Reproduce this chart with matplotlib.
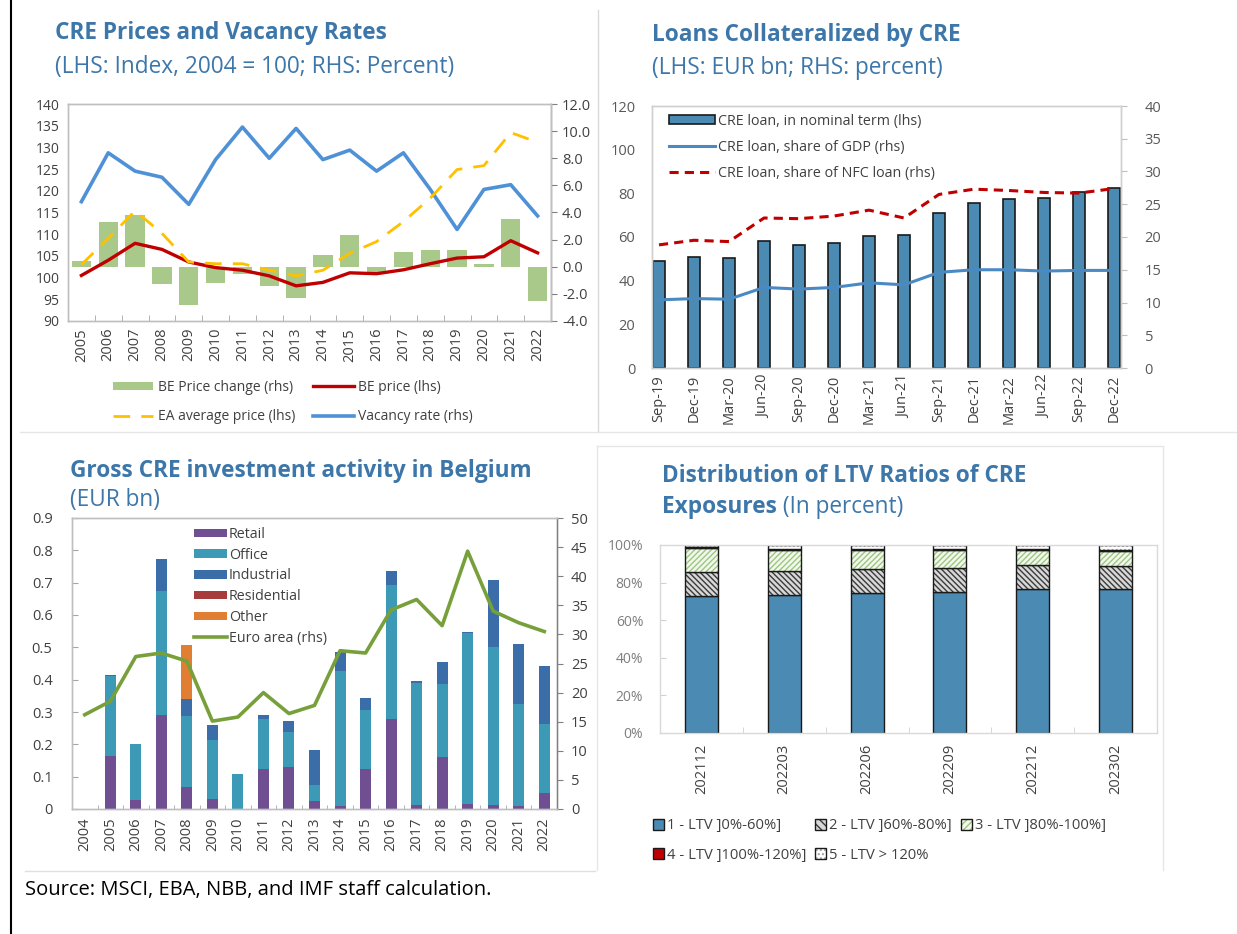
import numpy as np
import matplotlib
matplotlib.use("Agg")
import matplotlib.pyplot as plt
from matplotlib.patches import Patch
from matplotlib.lines import Line2D
from matplotlib.legend_handler import HandlerTuple
from matplotlib.ticker import FuncFormatter

plt.rcParams['font.family'] = ['Open Sans', 'DejaVu Sans']

W, H = 1237, 934
TITLE_C = '#3d77aa'
TICK_C = '#404040'
SPINE_C = '#bfbfbf'

# --- CRE prices and vacancy rates ---
years1 = [str(y) for y in range(2005, 2023)]
be_change = [0.4, 3.3, 3.8, -1.3, -2.8, -1.2, -0.5, -1.4, -2.3, 0.85, 2.35, -0.45,
             1.1, 1.2, 1.2, 0.2, 3.55, -2.5]
be_price = [100.5, 104.0, 107.9, 106.5, 103.6, 102.3, 101.7, 100.4, 98.1, 98.9, 101.1,
            100.9, 101.8, 103.2, 104.5, 104.8, 108.5, 105.7]
ea_price = [103.0, 109.0, 115.4, 110.2, 103.6, 103.2, 103.2, 101.7, 100.4, 101.7, 105.6,
            108.3, 112.9, 118.3, 124.9, 125.8, 133.4, 131.2]
vacancy = [4.8, 8.4, 7.05, 6.6, 4.6, 7.9, 10.3, 8.0, 10.2, 7.9, 8.6, 7.05, 8.4, 5.7,
           2.75, 5.7, 6.05, 3.75]

# --- Loans collateralized by CRE ---
quarters = ['Sep-19', 'Dec-19', 'Mar-20', 'Jun-20', 'Sep-20', 'Dec-20', 'Mar-21',
            'Jun-21', 'Sep-21', 'Dec-21', 'Mar-22', 'Jun-22', 'Sep-22', 'Dec-22']
cre_loan = [49.2, 50.8, 50.3, 58.0, 56.2, 57.4, 60.3, 60.8, 71.2, 75.8, 77.4, 78.0, 80.8, 82.6]
share_gdp = [10.4, 10.6, 10.5, 12.3, 12.05, 12.3, 13.0, 12.7, 14.6, 15.0, 15.0, 14.8, 14.9, 14.9]
share_nfc = [18.8, 19.5, 19.3, 22.9, 22.8, 23.2, 24.1, 22.9, 26.5, 27.3, 27.1, 26.8, 26.7, 27.4]

# --- Gross CRE investment activity ---
years3 = [str(y) for y in range(2004, 2023)]
retail = [0, 0.163, 0.029, 0.292, 0.068, 0.032, 0, 0.124, 0.129, 0.024, 0.008, 0.125,
          0.279, 0.013, 0.161, 0.016, 0.013, 0.008, 0.049]
office = [0, 0.247, 0.172, 0.381, 0.221, 0.182, 0.109, 0.155, 0.109, 0.051, 0.420, 0.180,
          0.415, 0.377, 0.227, 0.528, 0.488, 0.318, 0.214]
industrial = [0, 0.003, 0, 0.100, 0.051, 0.046, 0, 0.013, 0.033, 0.106, 0.057, 0.038,
              0.041, 0.005, 0.066, 0.004, 0.208, 0.185, 0.180]
residential = [0] * 19
other = [0, 0, 0, 0, 0.166, 0, 0, 0, 0, 0, 0, 0, 0, 0, 0, 0, 0, 0, 0]
euro_area = [16.2, 18.5, 26.2, 26.8, 25.4, 15.1, 15.8, 20.0, 16.4, 17.8, 27.2, 26.8,
             34.2, 36.0, 31.5, 44.3, 34.0, 32.0, 30.5]

# --- LTV distribution ---
periods = ['202112', '202203', '202206', '202209', '202212', '202302']
ltv1 = [72.9, 73.5, 74.3, 74.9, 76.6, 76.5]
ltv2 = [12.6, 12.7, 12.8, 13.1, 13.0, 12.3]
ltv3 = [12.7, 11.1, 10.2, 9.3, 7.7, 8.2]
ltv4 = [0.9, 0.4, 0.4, 0.4, 0.4, 0.5]
ltv5 = [0.9, 2.3, 2.3, 2.3, 2.3, 2.5]
ltv_labels = ['1 - LTV ]0%-60%]', '2 - LTV ]60%-80%]', '3 - LTV ]80%-100%]',
              '4 - LTV ]100%-120%]', '5 - LTV > 120%']

fig = plt.figure(figsize=(W / 100, H / 100), dpi=100)


def add_ax(l, t, r, b):
    return fig.add_axes([l / W, 1 - b / H, (r - l) / W, (b - t) / H])


def fx(x):
    return x / W


def fy(y):
    return 1 - y / H


def box_spines(ax, color=SPINE_C):
    for s in ax.spines.values():
        s.set_color(color)
        s.set_linewidth(1.0)


TFS = 16.3   # title size
TKS = 10.5   # tick label size

# frame lines
fig.add_artist(Line2D([fx(11), fx(11)], [0, 1], color='black', lw=1.5))
fig.add_artist(Line2D([fx(598), fx(598)], [fy(10), fy(432)], color='#d9d9d9', lw=1))
fig.add_artist(Line2D([fx(20), fx(1237)], [fy(432), fy(432)], color='#e6e6e6', lw=1))
fig.add_artist(Line2D([fx(597), fx(597)], [fy(446), fy(870)], color='#e6e6e6', lw=1))
fig.add_artist(Line2D([fx(597), fx(1163)], [fy(446), fy(446)], color='#e6e6e6', lw=1))
fig.add_artist(Line2D([fx(1163), fx(1163)], [fy(446), fy(870)], color='#e6e6e6', lw=1))
fig.add_artist(Line2D([fx(25), fx(595)], [fy(871), fy(871)], color='#e0e0e0', lw=1))

# ---------------- panel 1 ----------------
ax1 = add_ax(68, 104, 551, 321)
ax1r = ax1.twinx()
x1 = np.arange(len(years1))
ax1r.bar(x1, be_change, width=0.72, color='#a9c98b', zorder=1)
ax1r.plot(x1, vacancy, color='#4f91d6', lw=2.6, zorder=2)
ax1.plot(x1, be_price, color='#c00000', lw=2.4, zorder=3)
ax1.plot(x1, ea_price, color='#ffc000', lw=2.0, dashes=(6, 4), zorder=3)
ax1.set_zorder(ax1r.get_zorder() + 1)
ax1.patch.set_visible(False)
ax1.set_xlim(-0.5, len(years1) - 0.5)
ax1.set_ylim(90, 140)
ax1r.set_ylim(-4, 12)
ax1.set_yticks(np.arange(90, 141, 5))
ax1r.set_yticks(np.arange(-4, 12.1, 2))
ax1r.yaxis.set_major_formatter(FuncFormatter(lambda v, p: f'{v:.1f}'))
ax1.set_xticks(x1)
ax1.set_xticklabels(years1, rotation=90)
ax1.set_xticks(np.arange(-0.5, len(years1)), minor=True)
ax1.tick_params(axis='x', which='major', length=0, labelsize=TKS, colors=TICK_C, pad=5)
ax1.tick_params(axis='x', which='minor', length=4, direction='in', color='#a6a6a6')
ax1.tick_params(axis='y', length=0, labelsize=10, colors=TICK_C, pad=6)
ax1r.tick_params(axis='y', length=4, direction='out', color='#808080', labelsize=TKS,
                 colors=TICK_C, pad=4)
box_spines(ax1, '#bfbfbf')
box_spines(ax1r, '#bfbfbf')
ax1r.spines['right'].set_color('#808080')

h_change = Patch(facecolor='#a9c98b')
h_be = Line2D([], [], color='#c00000', lw=2.4)
h_ea = Line2D([], [], color='#ffc000', lw=2.0, dashes=(6, 4))
h_vac = Line2D([], [], color='#4f91d6', lw=2.6)
fig.legend([h_change, h_ea, h_be, h_vac],
           ['BE Price change (rhs)', 'EA average price (lhs)', 'BE price (lhs)',
            'Vacancy rate (rhs)'],
           loc='center', bbox_to_anchor=(fx(293), fy(402)), ncol=2, frameon=False,
           fontsize=10, handlelength=2.9, handleheight=0.5, handletextpad=0.35,
           columnspacing=1.3, labelspacing=1.05, labelcolor=TICK_C)

fig.text(fx(55), fy(33), 'CRE Prices and Vacancy Rates', color=TITLE_C, fontsize=TFS,
         fontweight='bold', va='center')
fig.text(fx(55), fy(67), '(LHS: Index, 2004 = 100; RHS: Percent)', color=TITLE_C,
         fontsize=TFS, va='center')

# ---------------- panel 2 ----------------
ax2 = add_ax(652, 106, 1121, 368)
ax2r = ax2.twinx()
x2 = np.arange(len(quarters))
ax2.bar(x2, cre_loan, width=0.36, color='#4b8bb3', edgecolor='#1a1a1a', lw=1.2)
ax2r.plot(x2, share_gdp, color='#4a8ac4', lw=2.2)
ax2r.plot(x2, share_nfc, color='#c00000', lw=2.2, dashes=(3, 2))
ax2.set_xlim(-0.2, len(quarters) - 0.8)
ax2.set_ylim(0, 120)
ax2r.set_ylim(0, 40)
ax2.set_yticks(np.arange(0, 121, 20))
ax2r.set_yticks(np.arange(0, 41, 5))
ax2.set_xticks(x2)
ax2.set_xticklabels(quarters, rotation=90)
ax2.tick_params(axis='x', length=0, labelsize=TKS, colors='#404040', pad=5)
ax2.tick_params(axis='y', length=0, labelsize=TKS, colors='#595959', pad=12)
ax2r.tick_params(axis='y', length=4, direction='out', color='#bfbfbf', labelsize=TKS,
                 colors='#595959', pad=13)
box_spines(ax2, '#d0d0d0')
box_spines(ax2r, '#d0d0d0')

h_bar = Patch(facecolor='#4b8bb3', edgecolor='#1a1a1a', lw=1.2)
h_gdp = Line2D([], [], color='#4a8ac4', lw=2.2)
h_nfc = Line2D([], [], color='#c00000', lw=2.2, dashes=(3, 2))
ax2r.legend([h_bar, h_gdp, h_nfc],
            ['CRE loan, in nominal term (lhs)', 'CRE loan, share of GDP (rhs)',
             'CRE loan, share of NFC loan (rhs)'],
            loc='upper left', bbox_to_anchor=(fx(656), fy(101)),
            bbox_transform=fig.transFigure, frameon=False, fontsize=10.3,
            handlelength=3.2, handleheight=0.6, handletextpad=0.25, labelspacing=0.78,
            labelcolor='#404040')

fig.text(fx(652), fy(35), 'Loans Collateralized by CRE', color=TITLE_C, fontsize=TFS,
         fontweight='bold', va='center')
fig.text(fx(652), fy(68), '(LHS: EUR bn; RHS: percent)', color=TITLE_C, fontsize=TFS,
         va='center')

# ---------------- panel 3 ----------------
ax3 = add_ax(72, 518, 557, 809)
ax3r = ax3.twinx()
x3 = np.arange(len(years3))
cols3 = {'Retail': '#6f4f92', 'Office': '#3c9ab6', 'Industrial': '#3b6ea9',
         'Residential': '#a63c3c', 'Other': '#e07e34'}
series3 = [('Retail', retail), ('Office', office), ('Industrial', industrial),
           ('Residential', residential), ('Other', other)]
bottom = np.zeros(len(years3))
for name, vals in series3:
    ax3.bar(x3, vals, bottom=bottom, width=0.43, color=cols3[name])
    bottom += np.array(vals)
ax3r.plot(x3, euro_area, color='#77a03a', lw=2.6)
ax3.set_xlim(-0.5, len(years3) - 0.5)
ax3.set_ylim(0, 0.9)
ax3r.set_ylim(0, 50)
ax3.set_yticks(np.arange(0, 0.91, 0.1))
ax3.yaxis.set_major_formatter(FuncFormatter(lambda v, p: '0' if v == 0 else f'{v:.1f}'))
ax3r.set_yticks(np.arange(0, 51, 5))
ax3.set_xticks(x3)
ax3.set_xticklabels(years3, rotation=90)
ax3.set_xticks(np.arange(-0.5, len(years3)), minor=True)
ax3.tick_params(axis='x', which='major', length=0, labelsize=TKS, colors=TICK_C, pad=6)
ax3.tick_params(axis='x', which='minor', length=3, direction='in', color='#a6a6a6')
ax3.tick_params(axis='y', length=4, direction='in', color='#a6a6a6', labelsize=TKS,
                colors=TICK_C, pad=14)
ax3r.tick_params(axis='y', length=4, direction='out', color='#808080', labelsize=TKS,
                 colors=TICK_C, pad=6)
box_spines(ax3, '#bfbfbf')
box_spines(ax3r, '#bfbfbf')
ax3r.spines['right'].set_color('#808080')

h3 = [Patch(facecolor=cols3[n]) for n, _ in series3]
h3.append(Line2D([], [], color='#77a03a', lw=2.6))
ax3r.legend(h3, [n for n, _ in series3] + ['Euro area (rhs)'], loc='upper left',
            bbox_to_anchor=(fx(184), fy(517)), bbox_transform=fig.transFigure,
            frameon=False, fontsize=10.3, handlelength=2.3, handleheight=0.55,
            handletextpad=0.15, labelspacing=0.4, labelcolor=TICK_C, borderpad=0.2)

fig.text(fx(70), fy(471), 'Gross CRE investment activity in Belgium', color=TITLE_C,
         fontsize=TFS, fontweight='bold', va='center')
fig.text(fx(70), fy(500), '(EUR bn)', color=TITLE_C, fontsize=TFS, va='center')

# ---------------- panel 4 ----------------
ax4 = add_ax(660, 545, 1157, 733)
x4 = np.arange(len(periods))
bw = 0.4
edge = '#1a1a1a'
b0 = np.zeros(len(periods))
ax4.bar(x4, ltv1, width=bw, bottom=b0, color='#4b8bb3', edgecolor=edge, lw=1.0)
b1 = b0 + np.array(ltv1)
ax4.bar(x4, ltv2, width=bw, bottom=b1, color='#d8d8d8', edgecolor='#3a3a3a',
        hatch='\\\\\\\\\\\\', lw=0)
ax4.bar(x4, ltv2, width=bw, bottom=b1, color='none', edgecolor=edge, lw=1.0)
b2 = b1 + np.array(ltv2)
ax4.bar(x4, ltv3, width=bw, bottom=b2, color='#f3f8ee', edgecolor='#9cc77f',
        hatch='//////', lw=0)
ax4.bar(x4, ltv3, width=bw, bottom=b2, color='none', edgecolor=edge, lw=1.0)
b3 = b2 + np.array(ltv3)
ax4.bar(x4, ltv4, width=bw, bottom=b3, color='#c00000', edgecolor=edge, lw=1.0)
b4 = b3 + np.array(ltv4)
ax4.bar(x4, ltv5, width=bw, bottom=b4, color='white', edgecolor='#a0a0a0', hatch='....',
        lw=0)
ax4.bar(x4, ltv5, width=bw, bottom=b4, color='none', edgecolor=edge, lw=1.0)
ax4.set_xlim(-0.5, len(periods) - 0.5)
ax4.set_ylim(0, 100)
ax4.set_yticks(np.arange(0, 101, 20))
ax4.yaxis.set_major_formatter(FuncFormatter(lambda v, p: f'{v:.0f}%'))
ax4.set_xticks(x4)
ax4.set_xticklabels(periods, rotation=90)
ax4.set_xticks(np.arange(-0.5, len(periods)), minor=True)
ax4.tick_params(axis='x', which='major', length=0, labelsize=TKS, colors='#404040', pad=8)
ax4.tick_params(axis='x', which='minor', length=4, direction='in', color='#d0d0d0')
ax4.tick_params(axis='y', length=4, direction='in', color='#d0d0d0', labelsize=10,
                colors='#7f7f7f', pad=12)
box_spines(ax4, '#d9d9d9')

h4 = [
    Patch(facecolor='#4b8bb3', edgecolor=edge),
    (Patch(facecolor='#d8d8d8', edgecolor='#3a3a3a', hatch='\\\\\\\\', lw=0),
     Patch(facecolor='none', edgecolor=edge)),
    (Patch(facecolor='#f3f8ee', edgecolor='#9cc77f', hatch='/////', lw=0),
     Patch(facecolor='none', edgecolor=edge)),
    Patch(facecolor='#c00000', edgecolor=edge),
    (Patch(facecolor='white', edgecolor='#a0a0a0', hatch='....', lw=0),
     Patch(facecolor='none', edgecolor=edge)),
]
order = [0, 3, 1, 4, 2]
fig.legend([h4[i] for i in order], [ltv_labels[i] for i in order], loc='upper left',
           bbox_to_anchor=(fx(640), fy(805)), ncol=3, frameon=False, fontsize=10.6,
           handlelength=0.75, handleheight=0.75, handletextpad=0.2, columnspacing=0.6,
           labelspacing=1.0, labelcolor='#404040',
           handler_map={tuple: HandlerTuple(ndivide=1, pad=0)})

t4 = fig.text(fx(662), fy(476), 'Distribution of LTV Ratios of CRE', color=TITLE_C,
              fontsize=TFS, fontweight='bold', va='center')
t4b = fig.text(fx(662), fy(507), 'Exposures', color=TITLE_C, fontsize=TFS,
               fontweight='bold', va='center')
fig.canvas.draw()
bb = t4b.get_window_extent()
fig.text(bb.x1 / W, fy(507), ' (In percent)', color=TITLE_C, fontsize=TFS, va='center')

# source note
fig.text(fx(25), fy(890), 'Source: MSCI, EBA, NBB, and IMF staff calculation.',
         color='black', fontsize=14.5, va='center')

fig.savefig('out.png', dpi=100)
